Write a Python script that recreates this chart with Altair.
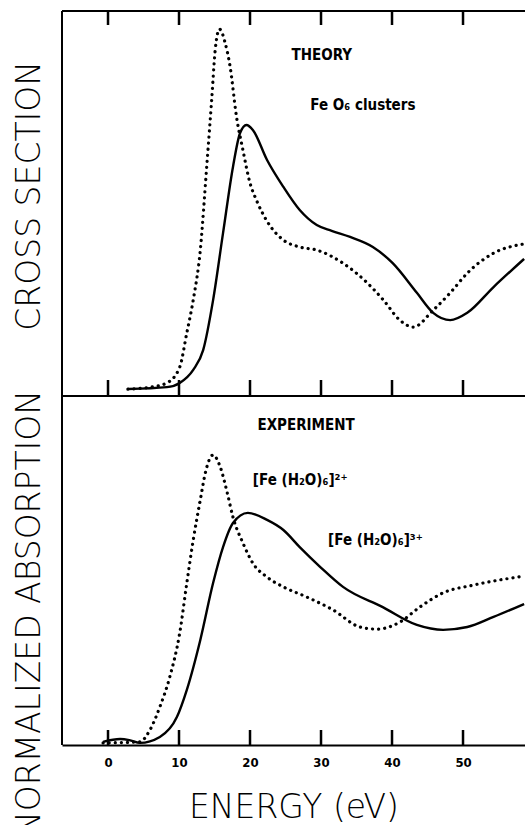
import altair as alt
import pandas as pd

# ---- data ----
theory_dot_E = [2.8, 6.0, 8.3, 10.1, 11.1, 12.0, 13.0, 13.9, 14.6, 15.1, 15.7, 16.5, 17.2, 18.1, 19.0,
                20.0, 20.9, 22.3, 24.7, 27.0, 29.4, 33.1, 36.5, 38.8, 41.1, 43.0, 45.8, 48.2, 50.6, 54.3, 58.6]
theory_dot_v = [1.8, 2.3, 3.4, 7.5, 16.4, 24.9, 37.9, 59.5, 76.9, 89.9, 95.3, 91.7, 85.5, 72.5, 63.9,
                55.3, 50.9, 45.7, 40.5, 38.7, 37.9, 34.5, 29.4, 24.9, 19.7, 17.9, 22.3, 26.8, 31.9, 37.1, 39.5]

theory_sol_E = [2.8, 8.3, 10.1, 12.0, 13.4, 14.8, 16.2, 17.6, 18.6, 19.5, 20.4, 22.4, 24.7, 27.0, 29.4,
                31.5, 34.1, 37.3, 40.1, 43.5, 45.8, 48.2, 50.6, 54.3, 58.6]
theory_sol_v = [1.8, 2.3, 3.4, 6.8, 11.9, 24.9, 42.3, 59.5, 68.3, 70.4, 69.1, 61.3, 54.3, 48.3, 44.4,
                42.9, 41.3, 38.7, 34.5, 26.8, 21.6, 19.7, 21.6, 28.3, 35.6]

exp_dot_E = [-0.7, 4.5, 5.9, 7.3, 8.7, 10.1, 11.1, 12.0, 13.0, 13.7, 14.8, 15.8, 16.8, 17.6, 19.0,
             20.4, 22.4, 24.7, 28.0, 31.7, 35.5, 37.9, 41.1, 43.9, 47.2, 51.4, 58.6]
exp_dot_v = [0.6, 0.9, 4.3, 10.9, 19.5, 32.1, 46.4, 58.7, 70.2, 77.9, 83.1, 79.7, 72.2, 65.3, 57.9,
             52.1, 48.1, 45.3, 42.4, 38.7, 33.8, 33.2, 35.2, 39.5, 43.6, 45.8, 48.4]

exp_sol_E = [-0.7, 1.7, 3.0, 4.5, 7.3, 9.7, 11.1, 13.0, 14.8, 16.2, 17.6, 19.7, 22.4, 24.7, 27.0,
             29.9, 33.1, 38.7, 43.5, 47.2, 50.6, 54.3, 58.6]
exp_sol_v = [0.9, 1.7, 1.4, 0.6, 2.3, 8.0, 15.8, 30.1, 46.4, 56.7, 63.6, 66.5, 64.5, 61.6, 56.7,
             51.0, 45.3, 39.5, 34.4, 33.0, 33.8, 36.7, 40.4]

tick_values = [0, 10, 20, 30, 40, 50]

top_labels = ["THEORY", "Fe O₆ clusters"]
top_label_E = [30.1, 28.5]
top_label_v = [88.6, 75.6]
top_label_align = ["center", "left"]

bot_labels = ["EXPERIMENT", "[Fe (H₂O)₆]²⁺", "[Fe (H₂O)₆]³⁺"]
bot_label_E = [27.9, 20.4, 31.0]
bot_label_v = [91.7, 75.9, 58.7]
bot_label_align = ["center", "left", "left"]

# ---- layout ----
W, H = 463, 734
H_TOP = 385
BIG_FONT = "DejaVu Sans"
SMALL_FONT = "DejaVu Sans Condensed, DejaVu Sans"
xscale = alt.Scale(domain=[-6.48, 58.73], nice=False, zero=False)
ytop = alt.Scale(domain=[0, 100], range=[H_TOP, 0], nice=False, zero=False)
ybot = alt.Scale(domain=[0, 100], range=[H, H_TOP], nice=False, zero=False)

xaxis = alt.Axis(values=tick_values, ticks=False, tickSize=0, grid=False, domain=True,
                 domainColor="black", domainWidth=2, labelFont=SMALL_FONT, labelFontWeight="bold",
                 labelFontSize=13, labelColor="black", labelPadding=11, labelFlush=False,
                 title="ENERGY (eV)", titleFont=BIG_FONT,
                 titleFontWeight=200, titleFontSize=33, titleColor="black", titlePadding=22)
X = alt.X("E:Q", scale=xscale, axis=xaxis)


def line_df(E, v):
    return pd.DataFrame({"E": E, "v": v})


def curve(E, v, ys, dotted):
    if dotted:
        m = alt.Chart(line_df(E, v)).mark_line(interpolate="monotone", color="black", strokeWidth=3.2,
                                                strokeDash=[0.1, 6], strokeCap="round")
    else:
        m = alt.Chart(line_df(E, v)).mark_line(interpolate="monotone", color="black", strokeWidth=2.4)
    return m.encode(x=X, y=alt.Y("v:Q", scale=ys, axis=None))


ticks_df = pd.DataFrame({"E": tick_values})


def tick_layer(y0, y1):
    return alt.Chart(ticks_df).mark_rule(color="black", strokeWidth=2.5).encode(
        x=X, y=alt.value(y0), y2=alt.value(y1))


def label_layer(texts, E, v, aligns, ys):
    layers = []
    for t, e, vv, a in zip(texts, E, v, aligns):
        df = pd.DataFrame({"E": [e], "v": [vv], "t": [t]})
        layers.append(alt.Chart(df).mark_text(font=SMALL_FONT, fontWeight="bold", fontSize=15,
                                              color="black", align=a, baseline="middle").encode(
            x=X, y=alt.Y("v:Q", scale=ys, axis=None), text="t:N"))
    return layers


frame_df = pd.DataFrame({"E": [0]})
left_border = alt.Chart(frame_df).mark_rule(color="black", strokeWidth=2).encode(
    x=alt.value(0), y=alt.value(0), y2=alt.value(H))
top_border = alt.Chart(frame_df).mark_rule(color="black", strokeWidth=2).encode(
    x=alt.value(0), x2=alt.value(W), y=alt.value(0))
separator = alt.Chart(frame_df).mark_rule(color="black", strokeWidth=2).encode(
    x=alt.value(0), x2=alt.value(W), y=alt.value(H_TOP))

title_df1 = pd.DataFrame({"t": ["CROSS SECTION"]})
title_df2 = pd.DataFrame({"t": ["NORMALIZED ABSORPTION"]})
big_font = dict(font=BIG_FONT, fontSize=33, fontWeight=200,
                color="black", angle=270, align="right", baseline="middle")
title1 = alt.Chart(title_df1).mark_text(**big_font).encode(
    x=alt.value(-32), y=alt.value(50), text="t:N")
title2 = alt.Chart(title_df2).mark_text(**big_font).encode(
    x=alt.value(-32), y=alt.value(379), text="t:N")

layers = [
    curve(theory_sol_E, theory_sol_v, ytop, False),
    curve(theory_dot_E, theory_dot_v, ytop, True),
    curve(exp_sol_E, exp_sol_v, ybot, False),
    curve(exp_dot_E, exp_dot_v, ybot, True),
    tick_layer(0, 14),
    tick_layer(H_TOP, H_TOP - 16),
    tick_layer(H, H - 15),
    left_border, top_border, separator, title1, title2,
]
layers += label_layer(top_labels, top_label_E, top_label_v, top_label_align, ytop)
layers += label_layer(bot_labels, bot_label_E, bot_label_v, bot_label_align, ybot)

chart = alt.layer(*layers).resolve_scale(y="independent").properties(
    width=W, height=H,
    autosize=alt.AutoSizeParams(type="none"),
    padding={"left": 62, "top": 11, "right": 0, "bottom": 80},
    background="white",
).configure_view(stroke=None)

chart.save("out.html", embed_options={"renderer": "svg", "actions": False})
